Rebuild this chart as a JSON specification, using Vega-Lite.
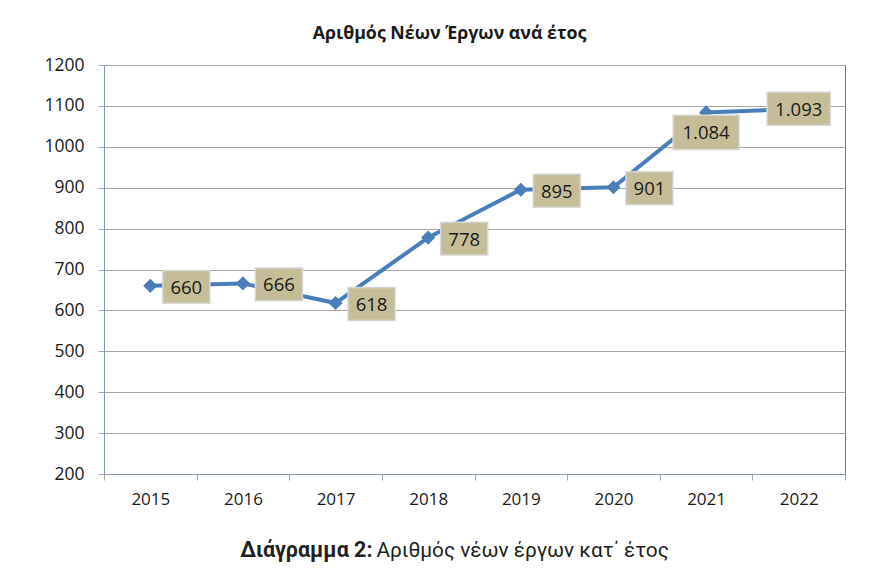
{
  "$schema": "https://vega.github.io/schema/vega-lite/v6.json",
  "autosize": {"type": "none"},
  "padding": {"left": 104, "top": 65, "right": 24, "bottom": 104},
  "width": 741,
  "height": 409,
  "background": "white",
  "config": {
    "locale": {"number": {"decimal": ",", "thousands": ".", "grouping": [3], "currency": ["", "€"]}},
    "view": {"stroke": "#4a7ebb", "strokeWidth": 1}
  },
  "title": {
    "text": "Αριθμός Νέων Έργων ανά έτος",
    "font": "Open Sans",
    "fontSize": 17.8,
    "fontWeight": "bold",
    "color": "#1a1a1a",
    "anchor": "middle",
    "baseline": "alphabetic",
    "dx": -25,
    "offset": -1
  },
  "data": {
    "values": [
      {"year": "2015", "projects": 660},
      {"year": "2016", "projects": 666},
      {"year": "2017", "projects": 618},
      {"year": "2018", "projects": 778},
      {"year": "2019", "projects": 895},
      {"year": "2020", "projects": 901},
      {"year": "2021", "projects": 1084},
      {"year": "2022", "projects": 1093}
    ]
  },
  "encoding": {
    "x": {
      "field": "year",
      "type": "ordinal",
      "scale": {"paddingInner": 0, "paddingOuter": 0},
      "axis": {
        "labelAngle": 0,
        "tickBand": "extent",
        "grid": false,
        "labelFont": "Open Sans",
        "labelFontSize": 17,
        "labelColor": "#1a1a1a",
        "labelPadding": 11,
        "tickSize": 6,
        "tickColor": "#a6a6a6",
        "domainColor": "#8497b0",
        "title": "Διάγραμμα 2:",
        "titleX": 268,
        "titleY": 82,
        "titleAlign": "right",
        "titleAnchor": null,
        "titleBaseline": "alphabetic",
        "titleFont": "Roboto",
        "titleFontWeight": "bold",
        "titleFontSize": 21.5,
        "titleColor": "#231f20"
      }
    },
    "y": {
      "field": "projects",
      "type": "quantitative",
      "scale": {"domain": [200, 1200], "nice": false, "zero": false},
      "axis": {
        "values": [200, 300, 400, 500, 600, 700, 800, 900, 1000, 1100, 1200],
        "format": "d",
        "grid": true,
        "gridColor": "#a6a6a6",
        "labelFont": "Open Sans",
        "labelFontSize": 17.5,
        "labelColor": "#1a1a1a",
        "labelPadding": 14,
        "tickSize": 6,
        "tickColor": "#a6a6a6",
        "domainColor": "#8497b0",
        "title": "Αριθμός νέων έργων κατ΄ έτος",
        "titleAngle": 0,
        "titleX": 272,
        "titleY": 491,
        "titleAlign": "left",
        "titleAnchor": null,
        "titleBaseline": "alphabetic",
        "titleFont": "Roboto",
        "titleFontWeight": "normal",
        "titleFontSize": 20.8,
        "titleColor": "#231f20"
      }
    }
  },
  "layer": [
    {"mark": {"type": "line", "color": "#4a7ebb", "strokeWidth": 4}},
    {"mark": {"type": "point", "shape": "diamond", "filled": true, "size": 200, "color": "#4a7ebb", "opacity": 1}},
    {
      "transform": [{"filter": "datum.year < '2021'"}],
      "mark": {"type": "point", "shape": "M-1,-0.7H1V0.7H-1Z", "size": 2209, "filled": true, "fill": "#c4bd97", "stroke": "#d6d6d6", "strokeWidth": 1.5, "opacity": 1, "xOffset": 36, "yOffset": 1}
    },
    {
      "transform": [{"filter": "datum.year == '2021'"}],
      "mark": {"type": "point", "shape": "M-1,-0.52H1V0.52H-1Z", "size": 4356, "filled": true, "fill": "#c4bd97", "stroke": "#d6d6d6", "strokeWidth": 1.5, "opacity": 1, "yOffset": 20}
    },
    {
      "transform": [{"filter": "datum.year == '2022'"}],
      "mark": {"type": "point", "shape": "M-1,-0.52H1V0.52H-1Z", "size": 4000, "filled": true, "fill": "#c4bd97", "stroke": "#d6d6d6", "strokeWidth": 1.5, "opacity": 1}
    },
    {
      "transform": [{"filter": "datum.year < '2021'"}],
      "mark": {"type": "text", "font": "Open Sans", "fontSize": 18.5, "color": "#1a1a1a", "xOffset": 36, "yOffset": 2, "baseline": "middle", "align": "center"},
      "encoding": {"text": {"field": "projects", "type": "quantitative", "format": ",d"}}
    },
    {
      "transform": [{"filter": "datum.year == '2021'"}],
      "mark": {"type": "text", "font": "Open Sans", "fontSize": 18.5, "color": "#1a1a1a", "yOffset": 21, "baseline": "middle", "align": "center"},
      "encoding": {"text": {"field": "projects", "type": "quantitative", "format": ",d"}}
    },
    {
      "transform": [{"filter": "datum.year == '2022'"}],
      "mark": {"type": "text", "font": "Open Sans", "fontSize": 18.5, "color": "#1a1a1a", "yOffset": 1, "baseline": "middle", "align": "center"},
      "encoding": {"text": {"field": "projects", "type": "quantitative", "format": ",d"}}
    }
  ]
}
